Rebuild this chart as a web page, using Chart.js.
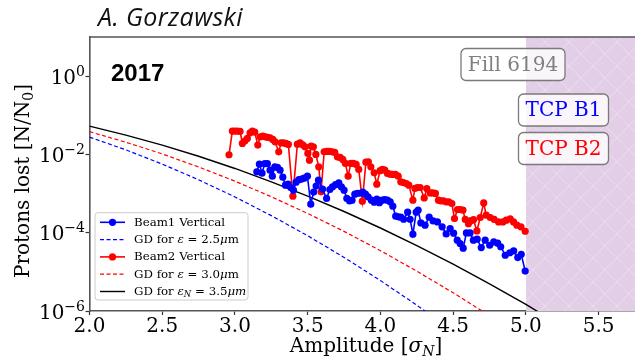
<!DOCTYPE html>
<html><head><meta charset="utf-8">
<script src="https://cdn.jsdelivr.net/npm/chart.js@4.4.0/dist/chart.umd.min.js"></script>
<style>html,body{margin:0;padding:0;background:#fff;}canvas{display:block;}</style>
</head><body>
<canvas id="c" width="635" height="359"></canvas>
<script>
// ---- data ----
const beam1Amp = [3.150,3.168,3.186,3.205,3.223,3.241,3.257,3.274,3.292,3.310,3.329,3.347,3.365,3.384,3.402,3.420,3.439,3.457,3.475,3.498,3.521,3.541,3.558,3.574,3.602,3.630,3.652,3.670,3.691,3.714,3.732,3.750,3.769,3.788,3.805,3.824,3.842,3.860,3.879,3.897,3.915,3.938,3.957,3.975,3.993,4.012,4.030,4.048,4.067,4.085,4.105,4.122,4.140,4.160,4.187,4.204,4.223,4.246,4.259,4.278,4.307,4.335,4.362,4.392,4.424,4.452,4.479,4.503,4.528,4.548,4.569,4.591,4.616,4.639,4.665,4.693,4.720,4.751,4.779,4.806,4.827,4.858,4.889,4.916,4.944,4.968,4.995];
const beam1Loss = [3.59e-3,5.65e-3,3.32e-3,5.82e-3,5.82e-3,3.97e-3,2.79e-3,4.82e-3,4.65e-3,3.97e-3,2.63e-3,1.64e-3,1.74e-3,1.43e-3,1.22e-3,1.96e-3,2.27e-3,2.34e-3,2.48e-3,2.79e-3,5.36e-4,1.09e-3,1.55e-3,2.20e-3,1.30e-3,7.5e-4,1.27e-3,1.48e-3,1.69e-3,1.88e-3,1.48e-3,1.22e-3,7.5e-4,6.5e-4,6.78e-4,9.66e-4,1.02e-3,1.02e-3,1.09e-3,9.66e-4,8.24e-4,6.78e-4,6.03e-4,7.19e-4,5.85e-4,6.78e-4,6.98e-4,6.78e-4,6.14e-4,4.76e-4,2.64e-4,2.54e-4,2.49e-4,2.21e-4,3.34e-4,2.21e-4,9.16e-5,3.34e-4,3.76e-4,1.78e-4,1.56e-4,2.49e-4,2.0e-4,1.89e-4,1.41e-4,9.31e-5,1.28e-4,9.71e-5,6.43e-5,5.3e-5,4.02e-5,9.89e-5,9.89e-5,6.43e-5,6.82e-5,4.18e-5,6.43e-5,4.79e-5,5.82e-5,5.39e-5,4.38e-5,2.66e-5,3.08e-5,3.43e-5,2.32e-5,2.82e-5,1.05e-5];

const beam2Amp = [2.959,2.982,2.999,3.017,3.035,3.051,3.069,3.085,3.104,3.120,3.136,3.157,3.173,3.191,3.209,3.226,3.241,3.260,3.276,3.301,3.317,3.333,3.349,3.367,3.398,3.429,3.448,3.466,3.482,3.501,3.512,3.523,3.539,3.556,3.576,3.592,3.613,3.631,3.649,3.668,3.686,3.704,3.723,3.741,3.759,3.778,3.796,3.814,3.833,3.851,3.876,3.900,3.917,3.934,3.957,3.975,3.998,4.014,4.030,4.048,4.067,4.085,4.103,4.122,4.140,4.158,4.177,4.195,4.223,4.237,4.254,4.273,4.301,4.319,4.342,4.360,4.378,4.399,4.415,4.433,4.452,4.470,4.491,4.509,4.530,4.548,4.567,4.583,4.605,4.622,4.640,4.663,4.686,4.710,4.727,4.755,4.782,4.812,4.842,4.865,4.892,4.915,4.938,4.966,4.995];
const beam2Loss = [9.8e-3,3.94e-2,3.94e-2,3.94e-2,3.9e-2,1.91e-2,2.23e-2,2.57e-2,3.57e-2,3.94e-2,3.72e-2,1.73e-2,2.82e-2,2.94e-2,2.82e-2,2.72e-2,2.66e-2,2.42e-2,2.10e-2,1.165e-2,1.98e-2,1.98e-2,1.91e-2,1.80e-2,8.6e-4,1.83e-2,1.98e-2,1.76e-2,1.56e-2,1.06e-2,7.15e-3,1.63e-2,1.56e-2,1.00e-2,4.82e-3,1.11e-3,1.165e-2,1.19e-2,1.19e-2,1.165e-2,1.125e-2,8.68e-3,8.38e-3,7.45e-3,5.89e-3,2.79e-3,5.89e-3,5.89e-3,5.55e-3,4.13e-3,6.4e-4,6.35e-3,6.47e-3,4.82e-3,3.38e-3,1.74e-3,3.85e-3,4.13e-3,3.97e-3,3.27e-3,3.13e-3,3.08e-3,3.08e-3,2.79e-3,1.99e-3,1.92e-3,1.81e-3,1.64e-3,6.78e-4,1.35e-3,1.43e-3,1.43e-3,7.76e-4,1.33e-3,1.04e-3,1.04e-3,1.01e-3,6.78e-4,6.5e-4,6.5e-4,6.14e-4,6.14e-4,5.58e-4,2.31e-4,3.92e-4,3.92e-4,3.76e-4,2.18e-4,1.70e-4,2.03e-4,2.15e-4,1.11e-4,2.45e-4,5.78e-4,2.8e-4,2.45e-4,2.18e-4,1.89e-4,1.89e-4,2.09e-4,2.25e-4,1.89e-4,1.56e-4,1.41e-4,1.09e-4];

const gd25Amp = [2.0,2.25,2.5,2.75,3.0,3.25,3.5,3.75,4.0,4.25,4.5];
const gd25Loss = [2.77e-2,1.31e-2,5.66e-3,2.25e-3,8.2e-4,2.73e-4,8.37e-5,2.34e-5,6.0e-6,1.41e-6,3.04e-7];
const gd30Amp = [2.0,2.25,2.5,2.75,3.0,3.25,3.5,3.75,4.0,4.25,4.5,4.75];
const gd30Loss = [3.82e-2,2.05e-2,1.03e-2,4.78e-3,2.07e-3,8.3e-4,3.10e-4,1.08e-4,3.48e-5,1.04e-5,2.92e-6,7.57e-7];
const gd35Amp = [2.0,2.25,2.5,2.75,3.0,3.25,3.5,3.75,4.0,4.25,4.5,4.75,5.0,5.25];
const gd35Loss = [5.3e-2,3.1e-2,1.73e-2,8.97e-3,4.38e-3,2.0e-3,8.6e-4,3.48e-4,1.32e-4,4.71e-5,1.58e-5,4.95e-6,1.47e-6,4.07e-7];

const xTicks = [2.0,2.5,3.0,3.5,4.0,4.5,5.0,5.5];
const yTicks = [1e-6,1e-4,1e-2,1];
const yTickExps = ['\u22126','\u22124','\u22122','0'];
const tcpStart = 5.0;
const xMin = 2.0, xMax = 5.75, yMin = 1e-6, yMax = 10;

// ---- helpers ----
const SERIF = '"DejaVu Serif", serif';
function zip(xs, ys){ return xs.map((x,i)=>({x:x, y:ys[i]})); }
function richWidth(ctx, segs){ let w = 0; segs.forEach(s=>{ ctx.font = s.f; w += ctx.measureText(s.t).width; }); return w; }
function rich(ctx, segs, x, y, align){
  const w = richWidth(ctx, segs);
  let cx = align === 'center' ? x - w/2 : (align === 'right' ? x - w : x);
  segs.forEach(s=>{ ctx.font = s.f; ctx.fillText(s.t, cx, y + (s.dy||0)); cx += ctx.measureText(s.t).width; });
}
function tbox(ctx, text, color, x, y, w, h){
  ctx.save();
  ctx.beginPath(); ctx.roundRect(x, y, w, h, 5);
  ctx.fillStyle = 'rgba(255,255,255,0.8)'; ctx.fill();
  ctx.strokeStyle = '#7a7a7a'; ctx.lineWidth = 1.3; ctx.stroke();
  ctx.fillStyle = color; ctx.font = '20px ' + SERIF;
  ctx.textAlign = 'center'; ctx.textBaseline = 'middle';
  ctx.fillText(text, x + w/2, y + h/2 + 1);
  ctx.restore();
}

const decor = {
  id: 'decor',
  beforeDatasetsDraw(chart){
    const {ctx, chartArea:a, scales:{x}} = chart;
    const x0 = x.getPixelForValue(tcpStart);
    ctx.save();
    ctx.beginPath(); ctx.rect(x0, a.top, a.right - x0, a.bottom - a.top); ctx.clip();
    ctx.fillStyle = '#e2cee7';
    ctx.fillRect(x0, a.top, a.right - x0, a.bottom - a.top);
    ctx.strokeStyle = 'rgba(255,255,255,0.35)'; ctx.lineWidth = 1;
    const H = a.bottom - a.top, s = 24;
    for (let k = -H; k < (a.right - x0) + H; k += s){
      ctx.beginPath(); ctx.moveTo(x0 + k, a.top); ctx.lineTo(x0 + k + H, a.bottom); ctx.stroke();
      ctx.beginPath(); ctx.moveTo(x0 + k, a.bottom); ctx.lineTo(x0 + k + H, a.top); ctx.stroke();
    }
    ctx.restore();
  },
  afterDatasetsDraw(chart){
    const {ctx, chartArea:a, scales} = chart;
    ctx.save();
    // top spine
    ctx.strokeStyle = '#555'; ctx.lineWidth = 1.6;
    ctx.beginPath(); ctx.moveTo(a.left, a.top); ctx.lineTo(a.right, a.top); ctx.stroke();

    // y tick labels (power-of-ten with superscript), placed by the y scale
    ctx.fillStyle = '#000'; ctx.textBaseline = 'alphabetic';
    yTicks.forEach((v, i)=>{
      const py = scales.y.getPixelForValue(v);
      rich(ctx, [{t:'10', f:'20px ' + SERIF},{t:yTickExps[i], f:'14px ' + SERIF, dy:-8}], a.left - 4.5, py + 7.5, 'right');
    });

    // annotation boxes
    tbox(ctx, 'Fill 6194', '#808080', a.left + 371.5, a.top + 11.5, 104, 32);
    tbox(ctx, 'TCP B1', '#0000ff', a.left + 429, a.top + 57, 90, 32);
    tbox(ctx, 'TCP B2', '#ff0000', a.left + 429, a.top + 95.5, 90, 32);

    // year label
    ctx.fillStyle = '#000'; ctx.textAlign = 'left'; ctx.textBaseline = 'alphabetic';
    ctx.font = 'bold 24px "Liberation Sans", Arial, sans-serif';
    ctx.fillText('2017', a.left + 21.5, a.top + 44);

    // legend
    const lx = a.left + 5.5, ly = a.top + 175.7, lw = 153, lh = 87.3;
    ctx.beginPath(); ctx.roundRect(lx, ly, lw, lh, 3);
    ctx.fillStyle = 'rgba(255,255,255,0.85)'; ctx.fill();
    ctx.strokeStyle = '#cccccc'; ctx.lineWidth = 1; ctx.stroke();
    const fs = 11.8;
    const up = fs + 'px ' + SERIF, it = 'italic ' + fs + 'px ' + SERIF, sub = 'italic ' + (fs*0.72).toFixed(1) + 'px ' + SERIF;
    const rows = [
      [{t:'Beam1 Vertical', f:up}],
      [{t:'GD for ', f:up},{t:'\u03B5', f:it},{t:' = 2.5', f:up},{t:'\u03BC', f:it},{t:'m', f:up}],
      [{t:'Beam2 Vertical', f:up}],
      [{t:'GD for ', f:up},{t:'\u03B5', f:it},{t:' = 3.0', f:up},{t:'\u03BC', f:it},{t:'m', f:up}],
      [{t:'GD for ', f:up},{t:'\u03B5', f:it},{t:'N', f:sub, dy:3},{t:' = 3.5', f:up},{t:'\u03BCm', f:it}]
    ];
    const ds = chart.data.datasets;
    ctx.textBaseline = 'middle'; ctx.textAlign = 'left';
    rows.forEach((r, i)=>{
      const y = ly + 9.6 + i*17.3;
      const d = ds[i];
      ctx.save();
      ctx.strokeStyle = d.borderColor; ctx.lineWidth = d.borderWidth;
      ctx.setLineDash(d.borderDash || []);
      ctx.beginPath(); ctx.moveTo(lx + 5, y); ctx.lineTo(lx + 30, y); ctx.stroke();
      ctx.restore();
      if (d.pointRadius > 0){
        ctx.beginPath(); ctx.arc(lx + 17.5, y, d.pointRadius, 0, Math.PI*2);
        ctx.fillStyle = d.borderColor; ctx.fill();
      }
      ctx.fillStyle = '#000';
      rich(ctx, r, lx + 39, y + 0.5, 'left');
    });

    // axis titles
    ctx.fillStyle = '#000'; ctx.textBaseline = 'alphabetic';
    const f20 = '20px ' + SERIF, i20 = 'italic 20px ' + SERIF, s14 = 'italic 14px ' + SERIF, u14 = '14px ' + SERIF;
    rich(ctx, [{t:'Amplitude [', f:f20},{t:'\u03C3', f:i20},{t:'N', f:s14, dy:4},{t:']', f:f20}], a.left + 276.5, 352, 'center');
    ctx.save();
    ctx.translate(29, 181); ctx.rotate(-Math.PI/2);
    rich(ctx, [{t:'Protons lost [N/N', f:f20},{t:'0', f:u14, dy:4},{t:']', f:f20}], 0, 0, 'center');
    ctx.restore();

    // author title
    ctx.font = 'italic 25px "Open Sans", sans-serif';
    ctx.letterSpacing = '0.4px';
    ctx.fillStyle = '#111';
    ctx.fillText('A. Gorzawski', 98, 26);
    ctx.letterSpacing = '0px';
    ctx.restore();
  }
};

new Chart(document.getElementById('c').getContext('2d'), {
  type: 'line',
  data: { datasets: [
    {label:'Beam1 Vertical', data: zip(beam1Amp, beam1Loss), borderColor:'#0000ff', backgroundColor:'#0000ff', borderWidth:1.6, pointRadius:3.6, pointBorderWidth:0, pointBackgroundColor:'#0000ff'},
    {label:'GD for \u03B5 = 2.5\u03BCm', data: zip(gd25Amp, gd25Loss), borderColor:'#0000ff', borderWidth:1.2, borderDash:[4,2.5], pointRadius:0},
    {label:'Beam2 Vertical', data: zip(beam2Amp, beam2Loss), borderColor:'#ff0000', backgroundColor:'#ff0000', borderWidth:1.6, pointRadius:3.6, pointBorderWidth:0, pointBackgroundColor:'#ff0000'},
    {label:'GD for \u03B5 = 3.0\u03BCm', data: zip(gd30Amp, gd30Loss), borderColor:'#ff0000', borderWidth:1.2, borderDash:[4,2.5], pointRadius:0},
    {label:'GD for \u03B5N = 3.5\u03BCm', data: zip(gd35Amp, gd35Loss), borderColor:'#000000', borderWidth:1.4, pointRadius:0}
  ]},
  options: {
    responsive:false, animation:false, devicePixelRatio:1,
    layout:{autoPadding:false, padding:{top:37, left:0, right:0, bottom:0}},
    plugins:{legend:{display:false}, tooltip:{enabled:false}, title:{display:false}},
    elements:{line:{tension:0}},
    scales:{
      x:{type:'linear', min:xMin, max:xMax,
        afterFit(s){ s.height = 48; s.paddingRight = 0; s.paddingLeft = 0; },
        afterBuildTicks(s){ s.ticks = xTicks.map(v=>({value:v})); },
        ticks:{callback:(v)=>Number(v).toFixed(1), font:{family:'DejaVu Serif', size:20}, color:'#000', padding:0, maxRotation:0, autoSkip:false},
        grid:{display:true, drawOnChartArea:false, tickLength:4, color:'#333', tickWidth:1.2},
        border:{display:true, color:'#555', width:1.6}},
      y:{type:'logarithmic', min:yMin, max:yMax,
        afterFit(s){ s.width = 89.5; s.paddingTop = 0; s.paddingBottom = 0; },
        afterBuildTicks(s){ s.ticks = yTicks.map(v=>({value:v})); },
        ticks:{callback:()=>'', color:'rgba(0,0,0,0)', font:{family:'DejaVu Serif', size:20}, padding:1, autoSkip:false},
        grid:{display:true, drawOnChartArea:false, tickLength:4, color:'#333', tickWidth:1.2},
        border:{display:true, color:'#555', width:1.6}}
    }
  },
  plugins:[decor]
});
</script>
</body></html>
